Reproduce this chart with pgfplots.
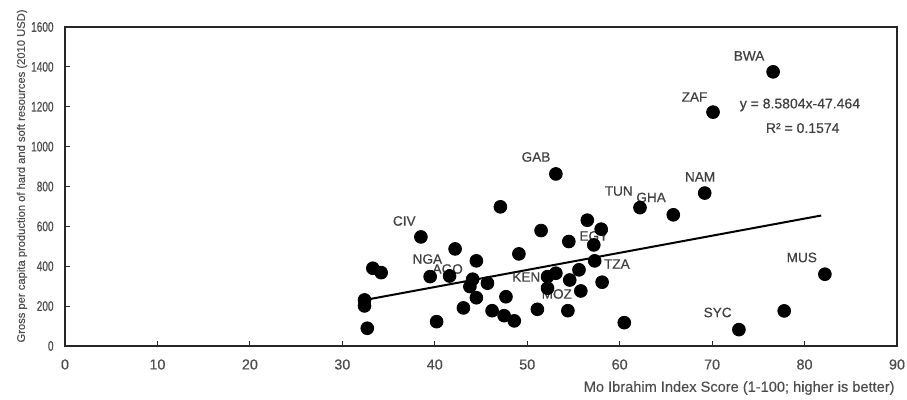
\documentclass[border=0pt]{standalone}
\usepackage{fontspec}
\setmainfont{Liberation Sans}
\newfontfamily\narrowfont{Liberation Sans}[FakeStretch=0.72, FakeBold=0.4]
\newfontfamily\labfont{Liberation Sans}[FakeBold=0.5]
\newfontfamily\axfont{Liberation Sans}[FakeBold=0.3]
\usepackage{pgfplots}
\pgfplotsset{compat=1.18}
\tikzset{lab/.style={font=\labfont\fontsize{6.8}{7}\selectfont, text=black!75, inner sep=0pt}}
\begin{document}
\begin{tikzpicture}
\useasboundingbox (-32.5pt,-27pt) rectangle (421pt,173pt);
\begin{axis}[at={(0,0)}, anchor=south west, scale only axis,
  width=416pt, height=159.5pt,
  xmin=0, xmax=90, ymin=0, ymax=1600,
  xtick={0,10,...,90}, ytick={0,200,...,1600},
  axis line style={black!85, line width=0.8pt},
  tick align=inside, xtick pos=bottom, ytick pos=left, major tick length=2.5pt,
  tick style={black!85, line width=0.6pt},
  /pgf/number format/assume math mode=true,
  /pgf/number format/1000 sep={},
  xticklabel style={font=\axfont\fontsize{7.2}{8}\selectfont, text=black!70, anchor=north, inner sep=0pt, yshift=-6.5pt},
  yticklabel style={font=\narrowfont\fontsize{7}{8}\selectfont, text=black!70, anchor=east, inner sep=0pt, xshift=-5.5pt},
  clip=false,
]
% country labels
\node[lab] at (axis cs:74.0,1455) {BWA};
\node[lab] at (axis cs:68.1,1249) {ZAF};
\node[lab] at (axis cs:50.95,948) {GAB};
\node[lab] at (axis cs:68.7,848) {NAM};
\node[lab] at (axis cs:59.9,777) {TUN};
\node[lab] at (axis cs:63.4,745) {GHA};
\node[lab] at (axis cs:36.7,627) {CIV};
\node[lab] at (axis cs:39.2,436) {NGA};
\node[lab] at (axis cs:41.4,386) {AGO};
\node[lab] at (axis cs:49.9,346) {KEN};
\node[lab] at (axis cs:53.2,261) {MOZ};
\node[lab] at (axis cs:57.2,552) {EGY};
\node[lab] at (axis cs:59.7,411) {TZA};
\node[lab] at (axis cs:79.7,444) {MUS};
\node[lab] at (axis cs:70.6,168) {SYC};
\node[lab, font=\labfont\fontsize{7}{8}\selectfont] at (axis cs:79.5,1209) {y = 8.5804x-47.464};
\node[lab, font=\labfont\fontsize{7}{8}\selectfont] at (axis cs:79.8,1093) {R² = 0.1574};
% trend line
\addplot[black, line width=1pt] coordinates {(32.4,230.5) (81.8,654.4)};
% data points
\addplot[only marks, mark=*, mark size=3.2pt, black] coordinates {
(32.4,231) (32.4,201) (32.7,89) (33.3,390) (34.2,368) (38.5,547) (39.5,348)
(40.2,122) (41.6,351) (42.2,487) (43.1,191) (43.8,298) (44.1,335) (44.5,427)
(44.5,242) (45.7,315) (46.2,177) (47.1,698) (47.5,152) (47.7,247) (48.6,126)
(49.1,462) (51.1,184) (51.5,579) (52.2,348) (52.2,290) (53.1,365) (53.1,863)
(54.4,177) (54.5,524) (54.6,331) (55.6,382) (55.8,276) (56.5,631) (57.2,507)
(57.3,427) (58.0,586) (58.1,320) (60.5,117) (62.2,694) (65.8,658) (69.2,767)
(70.1,1173) (72.9,82) (76.6,1375) (77.8,176) (82.2,360)
};
% axis titles
\node[anchor=east, font=\axfont\fontsize{7.3}{8}\selectfont, text=black!70, inner sep=0pt]
  at ([xshift=-1pt, yshift=-21pt]rel axis cs:1,0) {Mo Ibrahim Index Score (1-100; higher is better)};
\node[rotate=90, font=\axfont\fontsize{5.6}{6}\selectfont, text=black!70, inner sep=0pt]
  at ([xshift=-21.5pt]rel axis cs:0,0.533) {Gross per capita production of hard and soft resources (2010 USD)};
\end{axis}
\end{tikzpicture}
\end{document}
